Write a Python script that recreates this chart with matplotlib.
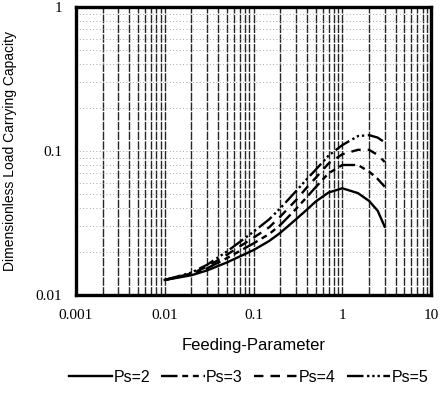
import matplotlib
matplotlib.use("Agg")
import matplotlib.pyplot as plt
from matplotlib.ticker import FixedLocator, NullFormatter, LogLocator

x = [0.01, 0.02, 0.03, 0.05, 0.1, 0.15, 0.2, 0.3, 0.4, 0.5, 0.7, 1.0, 1.5, 2.0, 2.5, 3.0]
ps2 = [0.0127, 0.0137, 0.0148, 0.0168, 0.0205, 0.0237, 0.0270, 0.0335, 0.0392, 0.0445, 0.0515, 0.0551, 0.0510, 0.0450, 0.0385, 0.0298]
ps3 = [0.0127, 0.0139, 0.0153, 0.0180, 0.0228, 0.0265, 0.0306, 0.0395, 0.0480, 0.0560, 0.0700, 0.0800, 0.0800, 0.0720, 0.0640, 0.0565]
ps4 = [0.0127, 0.0141, 0.0157, 0.0190, 0.0250, 0.0295, 0.0350, 0.0455, 0.0560, 0.0650, 0.0820, 0.0950, 0.1020, 0.1020, 0.0940, 0.0840]
ps5 = [0.0127, 0.0143, 0.0162, 0.0200, 0.0275, 0.0335, 0.0400, 0.0525, 0.0640, 0.0740, 0.0930, 0.1100, 0.1270, 0.1290, 0.1240, 0.1150]
labels = ["Ps=2", "Ps=3", "Ps=4", "Ps=5"]
xticklabels = ["0.001", "0.01", "0.1", "1", "10"]
yticklabels = ["0.01", "0.1", "1"]

fig = plt.figure(figsize=(4.44, 3.98), dpi=100)
ax = fig.add_axes([0.171, 0.259, 0.800, 0.723])
ax.set_xscale("log")
ax.set_yscale("log")
ax.set_xlim(0.001, 10)
ax.set_ylim(0.01, 1)

styles = ["-", (0, (7, 2, 2.5, 2, 2.5, 2)), (0, (4, 3)), (0, (7, 1.5, 1, 1.2, 1, 1.2, 1, 1.5))]
for ys, lab, ls in zip([ps2, ps3, ps4, ps5], labels, styles):
    ax.plot(x, ys, color="black", lw=1.7, linestyle=ls, label=lab,
            solid_joinstyle="round", dash_joinstyle="round")

ax.xaxis.set_major_locator(FixedLocator([0.001, 0.01, 0.1, 1, 10]))
ax.xaxis.set_minor_locator(LogLocator(base=10, subs=range(2, 10)))
ax.yaxis.set_major_locator(FixedLocator([0.01, 0.1, 1]))
ax.yaxis.set_minor_locator(LogLocator(base=10, subs=range(2, 10)))
ax.xaxis.set_minor_formatter(NullFormatter())
ax.yaxis.set_minor_formatter(NullFormatter())
ax.set_xticklabels(xticklabels, family="Liberation Serif", fontsize=11)
ax.set_yticklabels(yticklabels, family="Liberation Serif", fontsize=11)
ax.tick_params(axis="x", which="both", length=0, pad=10)
ax.tick_params(axis="y", which="both", length=0, pad=10)

ax.grid(True, axis="x", which="both", color="0.15", lw=1.0, linestyle=(0, (6, 1)))
ax.grid(True, axis="y", which="both", color="0.55", lw=0.6, linestyle=(0, (1, 3)))
for s in ax.spines.values():
    s.set_linewidth(2.4)

ax.set_xlabel("Feeding-Parameter", family="Liberation Sans", fontsize=12, labelpad=12)
ax.set_ylabel("Dimensionless Load Carrying Capacity", family="Liberation Sans", fontsize=10, labelpad=13)

fig.legend(loc="center", bbox_to_anchor=(0.56, 0.052), ncol=4, frameon=False,
           prop={"family": "Liberation Sans", "size": 11.5}, handlelength=2.7,
           handletextpad=0.1, columnspacing=0.7)

fig.savefig("out.png", dpi=100)
